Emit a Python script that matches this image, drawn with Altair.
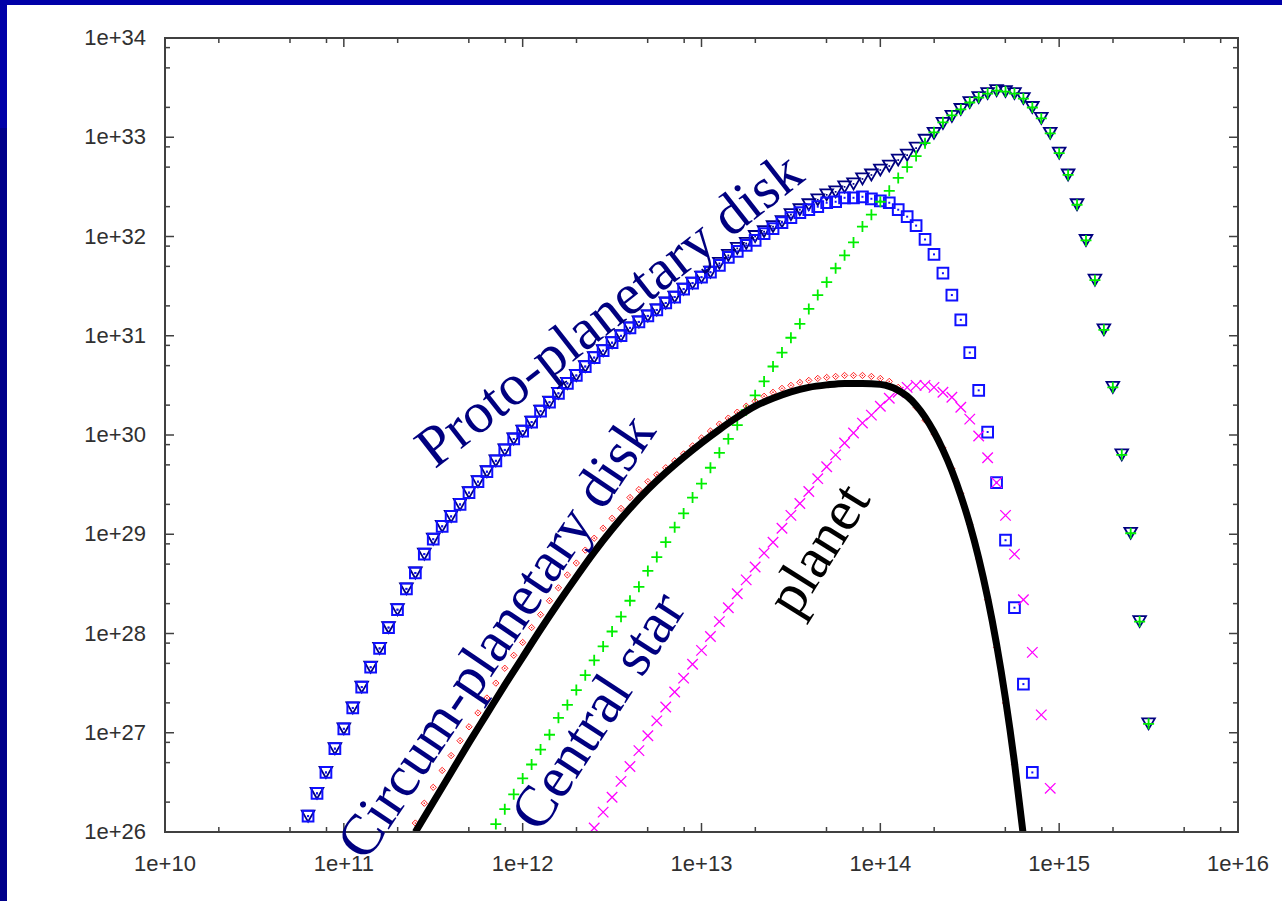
import altair as alt
import pandas as pd

# ---------------- data (log10 values) ----------------
LOG_NU = [10.80, 10.85, 10.90, 10.95, 11.00, 11.05, 11.10, 11.15, 11.20, 11.25,
          11.30, 11.35, 11.40, 11.45, 11.50, 11.55, 11.60, 11.65, 11.70, 11.75,
          11.80, 11.85, 11.90, 11.95, 12.00, 12.05, 12.10, 12.15, 12.20, 12.25,
          12.30, 12.35, 12.40, 12.45, 12.50, 12.55, 12.60, 12.65, 12.70, 12.75,
          12.80, 12.85, 12.90, 12.95, 13.00, 13.05, 13.10, 13.15, 13.20, 13.25,
          13.30, 13.35, 13.40, 13.45, 13.50, 13.55, 13.60, 13.65, 13.70, 13.75,
          13.80, 13.85, 13.90, 13.95, 14.00, 14.05, 14.10, 14.15, 14.20, 14.25,
          14.30, 14.35, 14.40, 14.45, 14.50, 14.55, 14.60, 14.65, 14.70, 14.75,
          14.80, 14.85, 14.90, 14.95, 15.00, 15.05, 15.10, 15.15, 15.20, 15.25,
          15.30, 15.35, 15.40, 15.45, 15.50]

# Proto-planetary disk (blue squares)
PROTO_START = 10.80
PROTO = [26.16, 26.39, 26.60, 26.84, 27.04, 27.25, 27.46, 27.66, 27.85, 28.06,
         28.24, 28.45, 28.61, 28.80, 28.95, 29.08, 29.18, 29.30, 29.42, 29.53,
         29.63, 29.74, 29.85, 29.96, 30.04, 30.13, 30.24, 30.33, 30.42, 30.52,
         30.60, 30.69, 30.78, 30.85, 30.93, 31.00, 31.08, 31.14, 31.20, 31.26,
         31.33, 31.39, 31.47, 31.53, 31.59, 31.64, 31.71, 31.79, 31.85, 31.91,
         31.96, 32.03, 32.08, 32.14, 32.19, 32.24, 32.27, 32.30, 32.34, 32.35,
         32.39, 32.39, 32.40, 32.38, 32.36, 32.34, 32.27, 32.20, 32.11, 31.97,
         31.82, 31.63, 31.41, 31.16, 30.83, 30.45, 30.03, 29.52, 28.94, 28.26,
         27.49, 26.60]

# Total SED (navy triangles)
TOTAL_START = 10.80
TOTAL = [26.16, 26.39, 26.60, 26.84, 27.04, 27.25, 27.46, 27.66, 27.85, 28.06,
         28.24, 28.45, 28.61, 28.80, 28.95, 29.08, 29.18, 29.30, 29.42, 29.53,
         29.63, 29.74, 29.85, 29.96, 30.04, 30.13, 30.24, 30.33, 30.42, 30.52,
         30.60, 30.69, 30.78, 30.85, 30.93, 31.00, 31.08, 31.14, 31.20, 31.26,
         31.33, 31.39, 31.47, 31.53, 31.59, 31.64, 31.73, 31.81, 31.88, 31.93,
         32.00, 32.05, 32.10, 32.15, 32.22, 32.27, 32.32, 32.37, 32.42, 32.45,
         32.50, 32.53, 32.58, 32.62, 32.67, 32.71, 32.77, 32.82, 32.89, 32.97,
         33.04, 33.14, 33.21, 33.28, 33.35, 33.40, 33.44, 33.47, 33.46, 33.44,
         33.39, 33.30, 33.19, 33.04, 32.84, 32.62, 32.32, 31.96, 31.56, 31.06,
         30.48, 29.80, 29.01, 28.12, 27.09]

# Central star (green plus)
STAR_START = 11.85
STAR = [26.08, 26.23, 26.38, 26.54, 26.68, 26.83, 26.98, 27.15, 27.28, 27.43,
        27.58, 27.73, 27.87, 28.02, 28.17, 28.33, 28.47, 28.63, 28.77, 28.92,
        29.07, 29.21, 29.37, 29.51, 29.67, 29.82, 29.96, 30.10, 30.25, 30.40,
        30.54, 30.69, 30.83, 30.98, 31.12, 31.27, 31.41, 31.54, 31.68, 31.81,
        31.94, 32.10, 32.22, 32.35, 32.46, 32.59, 32.70, 32.81, 32.94, 33.05,
        33.15, 33.22, 33.28, 33.35, 33.40, 33.44, 33.47, 33.46, 33.44, 33.39,
        33.30, 33.19, 33.04, 32.84, 32.62, 32.32, 31.96, 31.56, 31.06, 30.48,
        29.80, 29.01, 28.12, 27.09]

# Circum-planetary disk (red diamonds)
CPD_START = 11.40
CPD = [26.09, 26.29, 26.45, 26.62, 26.77, 26.92, 27.06, 27.20, 27.35, 27.50,
       27.65, 27.78, 27.91, 28.06, 28.19, 28.33, 28.46, 28.59, 28.71, 28.84,
       28.96, 29.06, 29.16, 29.26, 29.37, 29.45, 29.53, 29.60, 29.67, 29.74,
       29.81, 29.89, 29.97, 30.04, 30.11, 30.17, 30.23, 30.29, 30.34, 30.39,
       30.43, 30.47, 30.50, 30.53, 30.55, 30.57, 30.58, 30.59, 30.60, 30.60,
       30.60, 30.59, 30.57, 30.54, 30.48, 30.39, 30.28, 30.15, 30.01, 29.87,
       29.66, 29.41, 29.10, 28.75, 28.34, 27.86, 27.30, 26.68]

# Planet (magenta x)
PLANET_START = 12.40
PLANET = [26.04, 26.20, 26.35, 26.51, 26.66, 26.82, 26.97, 27.12, 27.26, 27.41,
          27.55, 27.69, 27.83, 27.97, 28.12, 28.26, 28.40, 28.54, 28.67, 28.81,
          28.92, 29.06, 29.19, 29.31, 29.43, 29.56, 29.68, 29.80, 29.92, 30.02,
          30.12, 30.20, 30.29, 30.37, 30.43, 30.48, 30.50, 30.50, 30.48, 30.43,
          30.38, 30.28, 30.16, 29.99, 29.77, 29.52, 29.19, 28.80, 28.34, 27.81,
          27.18, 26.44]

# Model curve (thick black line)
LINE_NU = [11.40, 11.50, 11.60, 11.70, 11.80, 11.90, 12.00, 12.10, 12.20, 12.30,
           12.40, 12.50, 12.60, 12.70, 12.80, 12.90, 13.00, 13.10, 13.20, 13.30,
           13.40, 13.50, 13.60, 13.70, 13.80, 13.90, 14.00, 14.05, 14.10, 14.15,
           14.20, 14.25, 14.30, 14.35, 14.40, 14.45, 14.50, 14.55, 14.60, 14.65,
           14.70, 14.75, 14.80]
LINE_L = [26.00, 26.30, 26.60, 26.90, 27.19, 27.48, 27.76, 28.04, 28.31, 28.57,
          28.82, 29.05, 29.26, 29.45, 29.62, 29.775, 29.92, 30.055, 30.18, 30.29,
          30.37, 30.435, 30.48, 30.505, 30.52, 30.52, 30.51, 30.49, 30.45, 30.39,
          30.30, 30.18, 30.03, 29.85, 29.64, 29.39, 29.10, 28.76, 28.36, 27.89,
          27.34, 26.70, 25.96]

# Annotations (text, log nu, log L, angle, colour)
ANNOT_TEXT = ["Proto-planetary disk", "Circum-planetary disk", "Central star", "planet"]
ANNOT_NU = [12.49, 11.86, 12.43, 13.66]
ANNOT_L = [31.25, 27.96, 27.21, 28.84]
ANNOT_ANGLE = [322, 304, 303, 302]
ANNOT_COLOR = ["#000080", "#000080", "#000080", "#000000"]

X_MAJOR = [10, 11, 12, 13, 14, 15, 16]
X_LABELS = ["1e+10", "1e+11", "1e+12", "1e+13", "1e+14", "1e+15", "1e+16"]
Y_MAJOR = [26, 27, 28, 29, 30, 31, 32, 33, 34]
Y_LABELS = ["1e+26", "1e+27", "1e+28", "1e+29", "1e+30", "1e+31", "1e+32", "1e+33", "1e+34"]
MINOR_MANT = [2, 5, 8]

# ---------------- helpers ----------------
def series(start, vals):
    i0 = LOG_NU.index(start)
    nu = LOG_NU[i0:i0 + len(vals)]
    return pd.DataFrame({"nu": [10.0 ** v for v in nu], "L": [10.0 ** v for v in vals]})

W, H = 1073, 794
PAD = {"left": 165, "top": 38, "right": 44, "bottom": 69}

xs = alt.Scale(type="log", domain=[1e10, 1e16], nice=False)
ys = alt.Scale(type="log", domain=[1e26, 1e34], nice=False)

SERIF = "Liberation Serif, Times New Roman, Times, DejaVu Serif, serif"
SANS = "Liberation Sans, Arial, Helvetica, sans-serif"


def pts(df, shape, size, color, sw, filled=False):
    return alt.Chart(df).mark_point(shape=shape, size=size, filled=filled, color=color,
                                    strokeWidth=sw, opacity=1, clip=True).encode(
        x=alt.X("nu:Q", scale=xs, axis=None),
        y=alt.Y("L:Q", scale=ys, axis=None))


one = pd.DataFrame({"a": [0]})
BLUE_LIGHT = "#0000a8"
BLUE_DARK = "#00008a"
strip_top = alt.Chart(one).mark_rect(color=BLUE_LIGHT).encode(
    x=alt.value(-PAD["left"]), x2=alt.value(W + PAD["right"]),
    y=alt.value(-PAD["top"]), y2=alt.value(-PAD["top"] + 5))
strip_left_a = alt.Chart(one).mark_rect(color=BLUE_LIGHT).encode(
    x=alt.value(-PAD["left"]), x2=alt.value(-PAD["left"] + 7),
    y=alt.value(-PAD["top"]), y2=alt.value(128 - PAD["top"]))
strip_left_b = alt.Chart(one).mark_rect(color=BLUE_DARK).encode(
    x=alt.value(-PAD["left"]), x2=alt.value(-PAD["left"] + 7),
    y=alt.value(128 - PAD["top"]), y2=alt.value(H + PAD["bottom"]))

# tick marks (inward, mirrored on all four sides)
y_major_df = pd.DataFrame({"v": [10.0 ** e for e in Y_MAJOR[1:-1]]})
y_minor_df = pd.DataFrame({"v": [m * 10.0 ** e for e in Y_MAJOR[:-1] for m in MINOR_MANT]})
x_major_df = pd.DataFrame({"v": [10.0 ** e for e in X_MAJOR[1:-1]]})
x_minor_df = pd.DataFrame({"v": [m * 10.0 ** e for e in X_MAJOR[:-1] for m in MINOR_MANT]})
TICK_COLOR = "#404040"


def yticks(df, length):
    left = alt.Chart(df).mark_rule(color=TICK_COLOR, strokeWidth=1.5).encode(
        y=alt.Y("v:Q", scale=ys, axis=None), x=alt.value(0), x2=alt.value(length))
    right = alt.Chart(df).mark_rule(color=TICK_COLOR, strokeWidth=1.5).encode(
        y=alt.Y("v:Q", scale=ys, axis=None), x=alt.value(W), x2=alt.value(W - length))
    return [left, right]


def xticks(df, length):
    bottom = alt.Chart(df).mark_rule(color=TICK_COLOR, strokeWidth=1.5).encode(
        x=alt.X("v:Q", scale=xs, axis=None), y=alt.value(H), y2=alt.value(H - length))
    top = alt.Chart(df).mark_rule(color=TICK_COLOR, strokeWidth=1.5).encode(
        x=alt.X("v:Q", scale=xs, axis=None), y=alt.value(0), y2=alt.value(length))
    return [bottom, top]


ticks = yticks(y_major_df, 9) + yticks(y_minor_df, 5) + xticks(x_major_df, 9) + xticks(x_minor_df, 5)

frame = alt.Chart(one).mark_rect(fillOpacity=0, stroke=TICK_COLOR, strokeWidth=2).encode(
    x=alt.value(0), x2=alt.value(W), y=alt.value(0), y2=alt.value(H))

# tick labels
xlab_df = pd.DataFrame({"v": [10.0 ** e for e in X_MAJOR], "t": X_LABELS})
ylab_df = pd.DataFrame({"v": [10.0 ** e for e in Y_MAJOR], "t": Y_LABELS})
xlab = alt.Chart(xlab_df).mark_text(font=SANS, fontSize=22, color="#303030", align="center",
                                    baseline="middle").encode(
    x=alt.X("v:Q", scale=xs, axis=None), y=alt.value(H + 32), text="t:N")
ylab = alt.Chart(ylab_df).mark_text(font=SANS, fontSize=22, color="#303030", align="right",
                                    baseline="middle").encode(
    y=alt.Y("v:Q", scale=ys, axis=None), x=alt.value(-19), text="t:N")

# data layers
total_df = series(TOTAL_START, TOTAL)
proto_df = series(PROTO_START, PROTO)
star_df = series(STAR_START, STAR)
cpd_df = series(CPD_START, CPD)
planet_df = series(PLANET_START, PLANET)
line_df = pd.DataFrame({"nu": [10.0 ** v for v in LINE_NU], "L": [10.0 ** v for v in LINE_L]})

PLUS = "M-1,0L1,0M0,-1L0,1"
XMARK = "M-1,-1L1,1M-1,1L1,-1"

total_layer = pts(total_df, "triangle-down", 160, "#000080", 1.8)
total_dot = pts(total_df, "square", 3, "#000080", 0, filled=True)
proto_layer = pts(proto_df, "square", 115, "#1010ff", 2.0)
proto_dot = pts(proto_df, "square", 4, "#1010ff", 0, filled=True)
star_layer = pts(star_df, PLUS, 121, "#00ee00", 1.8)
cpd_layer = pts(cpd_df, "diamond", 40, "#ff2020", 1.0)
cpd_dot = pts(cpd_df, "square", 2, "#ff2020", 0, filled=True)
planet_layer = pts(planet_df, XMARK, 110, "#ff00ff", 1.3)

line_layer = alt.Chart(line_df).mark_line(color="black", strokeWidth=7, interpolate="monotone",
                                          clip=True).encode(
    x=alt.X("nu:Q", scale=xs, axis=None), y=alt.Y("L:Q", scale=ys, axis=None))

annot_df = pd.DataFrame({
    "text": ANNOT_TEXT,
    "nu": [10.0 ** v for v in ANNOT_NU],
    "L": [10.0 ** v for v in ANNOT_L],
    "angle": ANNOT_ANGLE,
    "color": ANNOT_COLOR,
})
text_layer = alt.Chart(annot_df).mark_text(font=SERIF, fontSize=58, align="center",
                                           baseline="middle").encode(
    x=alt.X("nu:Q", scale=xs, axis=None), y=alt.Y("L:Q", scale=ys, axis=None),
    text="text:N", angle=alt.Angle("angle:Q", scale=None), color=alt.Color("color:N", scale=None))

chart = alt.layer(
    strip_top, strip_left_a, strip_left_b,
    total_layer, total_dot, proto_layer, proto_dot, star_layer,
    cpd_layer, cpd_dot, planet_layer, line_layer,
    *ticks, frame, xlab, ylab, text_layer,
).properties(
    width=W, height=H, padding=PAD, autosize=alt.AutoSizeParams(type="none"), background="white"
).configure_view(stroke=None)

chart.save("out.html", embed_options={"renderer": "svg", "actions": False})
